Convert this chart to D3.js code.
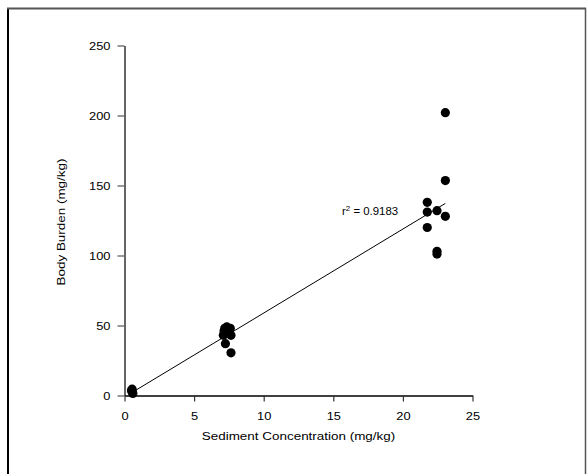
<!DOCTYPE html>
<html>
<head>
<meta charset="utf-8">
<script src="https://cdn.jsdelivr.net/npm/d3@7"></script>
<style>
  body { margin: 0; background: #fff; }
  svg text { font-family: "Liberation Sans", Arial, sans-serif; fill: #000; }
</style>
</head>
<body>
<div id="chart"></div>
<script>
// Data
const sediment = [0.55, 0.55, 0.6, 0.5,
  7.2, 7.35, 7.6, 7.15, 7.1, 7.65, 7.25, 7.65, 7.5,
  21.75, 21.75, 21.75, 22.45, 22.45, 22.45, 23.05, 23.05, 23.05];
const burden = [4.5, 2.5, 1.5, 3.5,
  48, 49, 48, 46, 43, 43, 37, 30.5, 46,
  138, 131, 120, 132, 103, 101, 202, 153.5, 128];
const xTicks = [0, 5, 10, 15, 20, 25];
const yTicks = [0, 50, 100, 150, 200, 250];
const fitSlope = 6.0;
const fitIntercept = -1.1;
const fitRange = [0.6, 23.05];
const fitLabel = "0.9183";

const width = 588, height = 474;
const stretch = 1.17; // glyphs in the picture are wider than Liberation Sans

const svg = d3.select("#chart").append("svg")
  .attr("width", width)
  .attr("height", height);

// Frame
svg.append("line").attr("x1", 8).attr("y1", 8).attr("x2", 8).attr("y2", height)
  .attr("stroke", "#000").attr("stroke-width", 2);
svg.append("line").attr("x1", 7).attr("y1", 8.5).attr("x2", 586).attr("y2", 8.5)
  .attr("stroke", "#555").attr("stroke-width", 2);
svg.append("line").attr("x1", 585.5).attr("y1", 8).attr("x2", 585.5).attr("y2", height)
  .attr("stroke", "#555").attr("stroke-width", 1.5);

const x = d3.scaleLinear().domain([0, 25]).range([124.5, 472.5]);
const y = d3.scaleLinear().domain([0, 250]).range([395.5, 45.5]);

// Y axis
const yAxis = svg.append("g")
  .attr("transform", "translate(" + x(0) + ",0)")
  .call(d3.axisLeft(y).tickValues(yTicks).tickSize(7).tickSizeOuter(0));
yAxis.select(".domain").attr("stroke", "#666").attr("stroke-width", 2);
yAxis.selectAll(".tick line").attr("stroke", "#555").attr("stroke-width", 1.2);
yAxis.selectAll("text")
  .style("font-size", "11px")
  .attr("fill", "#000")
  .attr("x", 0)
  .attr("transform", "translate(-14,0) scale(" + stretch + ",1)");

// X axis
const xAxis = svg.append("g")
  .attr("transform", "translate(0," + y(0) + ")")
  .call(d3.axisBottom(x).tickValues(xTicks).tickSize(6).tickSizeOuter(0));
xAxis.select(".domain").attr("stroke", "#000").attr("stroke-width", 1.5);
xAxis.selectAll(".tick line").attr("stroke", "#333").attr("stroke-width", 1.2);
xAxis.selectAll("text")
  .style("font-size", "11px")
  .attr("fill", "#000")
  .attr("y", 0)
  .attr("dy", null)
  .attr("transform", "translate(0,24) scale(" + stretch + ",1)");

// Axis titles
svg.append("text")
  .attr("transform", "translate(298.5,440) scale(" + stretch + ",1)")
  .attr("text-anchor", "middle")
  .style("font-size", "11.5px")
  .text("Sediment Concentration (mg/kg)");

svg.append("text")
  .attr("transform", "translate(65,222) rotate(-90) scale(" + stretch + ",1)")
  .attr("text-anchor", "middle")
  .style("font-size", "11.5px")
  .text("Body Burden (mg/kg)");

// Regression line
svg.append("line")
  .attr("x1", x(fitRange[0]))
  .attr("y1", y(fitIntercept + fitSlope * fitRange[0]))
  .attr("x2", x(fitRange[1]))
  .attr("y2", y(fitIntercept + fitSlope * fitRange[1]))
  .attr("stroke", "#000")
  .attr("stroke-width", 1);

// Points
svg.selectAll("circle.pt")
  .data(sediment.map((s, i) => [s, burden[i]]))
  .enter().append("circle")
  .attr("class", "pt")
  .attr("cx", d => x(d[0]))
  .attr("cy", d => y(d[1]))
  .attr("r", 4.6)
  .attr("fill", "#000");

// r^2 label
const lbl = svg.append("text")
  .attr("transform", "translate(342,215) scale(1.14,1)")
  .style("font-size", "10px");
lbl.append("tspan").text("r");
lbl.append("tspan").attr("dy", -4).style("font-size", "7px").text("2");
lbl.append("tspan").attr("dy", 4).text(" = " + fitLabel);
</script>
</body>
</html>
